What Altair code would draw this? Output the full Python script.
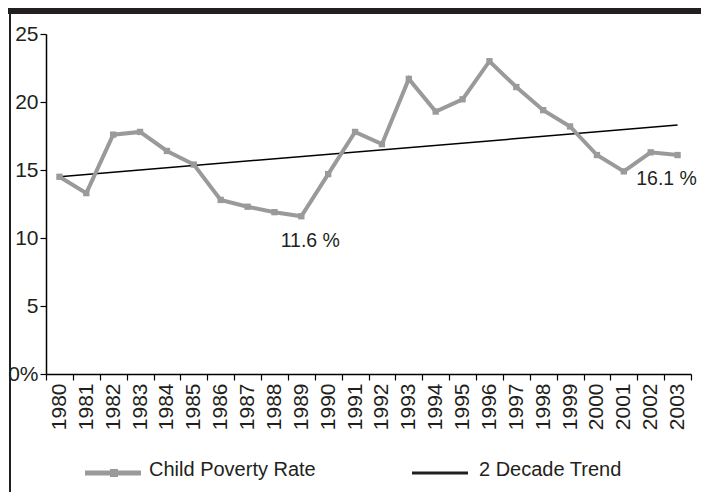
import altair as alt
import pandas as pd

years = ["1980", "1981", "1982", "1983", "1984", "1985", "1986", "1987",
         "1988", "1989", "1990", "1991", "1992", "1993", "1994", "1995",
         "1996", "1997", "1998", "1999", "2000", "2001", "2002", "2003"]
rates = [14.5, 13.3, 17.6, 17.8, 16.4, 15.4, 12.8, 12.3,
         11.9, 11.6, 14.7, 17.8, 16.9, 21.7, 19.3, 20.2,
         23.0, 21.1, 19.4, 18.2, 16.1, 14.9, 16.3, 16.1]
trend_years = ["1980", "2003"]
trend_values = [14.5, 18.3]
label_years = ["1989", "2003"]
label_values = [11.6, 16.1]
label_texts = ["11.6 %", "16.1 %"]
legend_names = ["Child Poverty Rate", "2 Decade Trend"]
y_ticks = [0, 5, 10, 15, 20, 25]

GRAY = "#9a9a9a"
INK = "#231f20"
FONT = "Liberation Sans"

df = pd.DataFrame({"year": years, "rate": rates})
trend_df = pd.DataFrame({"year": trend_years, "rate": trend_values})
lab_df = pd.DataFrame({"year": label_years, "rate": label_values, "text": label_texts})

x_enc = alt.X(
    "year:O",
    sort=years,
    scale=alt.Scale(type="band", paddingInner=0, paddingOuter=0),
    axis=alt.Axis(
        title=None, labelAngle=-90, labelFontSize=21, labelColor=INK,
        tickBand="extent", tickSize=6, tickColor="black", domainColor="black",
        domainWidth=1.5, tickWidth=1.2, labelPadding=3, labelFont=FONT,
        grid=False,
    ),
)
y_enc = alt.Y(
    "rate:Q",
    scale=alt.Scale(domain=[0, 25], nice=False, zero=True),
    axis=alt.Axis(
        title=None, values=y_ticks, grid=False, tickSize=6, tickColor="black",
        domainColor="black", domainWidth=1.5, tickWidth=1.2,
        labelFontSize=21, labelColor=INK, labelFont=FONT, labelPadding=2,
        labelExpr="datum.value == 0 ? '0%' : datum.label",
    ),
)

base = alt.Chart(df).encode(x=x_enc, y=y_enc)
line = base.mark_line(color=GRAY, strokeWidth=4)
pts = base.mark_square(color=GRAY, size=40, opacity=1)

trend = alt.Chart(trend_df).mark_line(color="black", strokeWidth=1.5).encode(
    x=alt.X("year:O", sort=years), y="rate:Q"
)

lab1 = alt.Chart(lab_df).transform_filter(alt.datum.year == "1989").mark_text(
    fontSize=19.5, color=INK, font=FONT, dx=9, dy=25
).encode(x=alt.X("year:O", sort=years), y="rate:Q", text="text:N")
lab2 = alt.Chart(lab_df).transform_filter(alt.datum.year == "2003").mark_text(
    fontSize=19.5, color=INK, font=FONT, dx=-11, dy=24
).encode(x=alt.X("year:O", sort=years), y="rate:Q", text="text:N")

# legend (drawn manually)
leg1_df = pd.DataFrame({"name": [legend_names[0]]})
leg2_df = pd.DataFrame({"name": [legend_names[1]]})
leg1_line = alt.Chart(leg1_df).mark_rule(color=GRAY, strokeWidth=5).encode(
    x=alt.value(39), x2=alt.value(95), y=alt.value(439))
leg1_sq = alt.Chart(leg1_df).mark_square(color=GRAY, size=64, opacity=1).encode(
    x=alt.value(68), y=alt.value(439))
leg1_txt = alt.Chart(leg1_df).mark_text(
    align="left", baseline="middle", fontSize=20, color=INK, font=FONT
).encode(x=alt.value(103), y=alt.value(436), text="name:N")
leg2_line = alt.Chart(leg2_df).mark_rule(color=INK, strokeWidth=3).encode(
    x=alt.value(366), x2=alt.value(422), y=alt.value(439))
leg2_txt = alt.Chart(leg2_df).mark_text(
    align="left", baseline="middle", fontSize=20, color=INK, font=FONT
).encode(x=alt.value(433), y=alt.value(436), text="name:N")

# frame
frame_df = pd.DataFrame({"k": [0]})
band = alt.Chart(frame_df).mark_rect(color=INK).encode(
    x=alt.value(-38), x2=alt.value(655), y=alt.value(-26), y2=alt.value(-20))
left_border = alt.Chart(frame_df).mark_rule(color=INK, strokeWidth=2).encode(
    x=alt.value(-36), y=alt.value(-21), y2=alt.value(458))

chart = alt.layer(
    band, left_border, trend, line, pts, lab1, lab2,
    leg1_line, leg1_sq, leg1_txt, leg2_line, leg2_txt,
).properties(
    width=645, height=340,
    background="white",
    autosize=alt.AutoSizeParams(type="none"),
    padding={"left": 38, "top": 26, "right": 10, "bottom": 118},
).configure(font=FONT).configure_view(stroke=None, strokeWidth=0)

chart.save("out.html", embed_options={"renderer": "svg", "actions": False})
